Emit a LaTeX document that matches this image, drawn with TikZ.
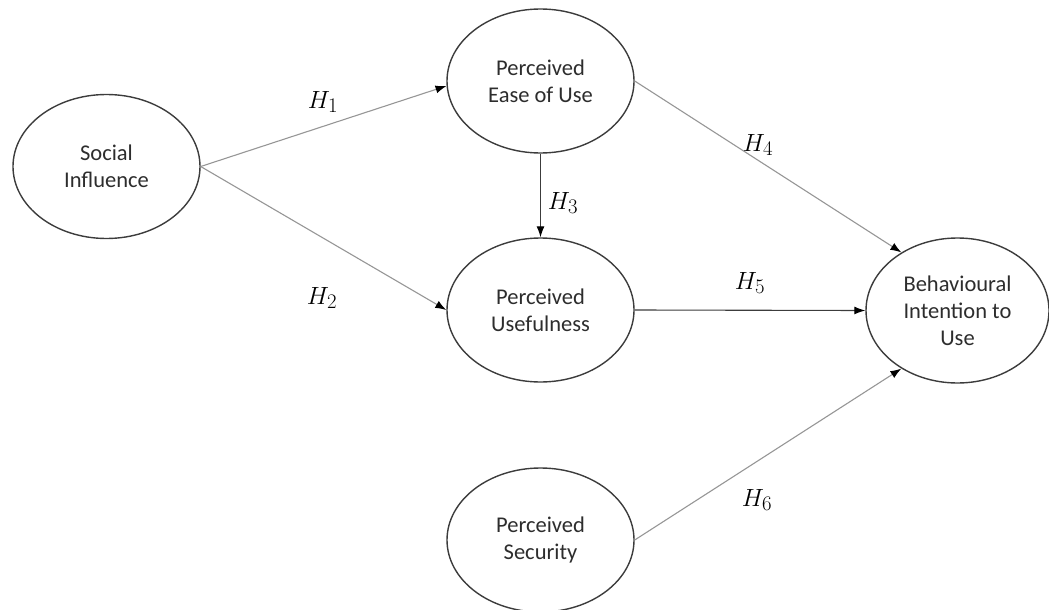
\documentclass[tikz,border=0pt]{standalone}
\usepackage{fontspec}
\setmainfont{Carlito}
\usetikzlibrary{shapes.geometric,arrows.meta}
\definecolor{edgegray}{RGB}{60,60,60}
\definecolor{linegray}{RGB}{150,150,150}
\definecolor{txt}{RGB}{45,45,45}
\tikzset{
  construct/.style={ellipse, draw=edgegray, line width=1.4pt, fill=white,
    minimum width=187pt, minimum height=144pt, inner sep=0pt,
    align=center, text=txt, font=\fontsize{22.5}{27}\selectfont},
  lightarrow/.style={draw=linegray, line width=1.1pt, -{Latex[length=11pt,width=8pt,color=black]}},
  darkarrow/.style={draw=edgegray, line width=1.1pt, -{Latex[length=11pt,width=8pt,color=black]}},
  hyp/.style={font=\fontsize{29}{33}\selectfont, text=black, inner sep=0pt}
}
\begin{document}
\begin{tikzpicture}[x=1pt,y=-1pt]
\useasboundingbox (0,0) rectangle (1049,610);
\node[construct] (SI)   at (106.5,166.5) {Social\\Influence};
\node[construct] (PEOU) at (540.5,81)    {Perceived\\Ease of Use};
\node[construct] (PU)   at (540.5,310)   {Perceived\\Usefulness};
\node[construct, minimum width=183pt, minimum height=145pt] (BI) at (957.5,310.5) {Behavioural\\Intention to\\Use};
\node[construct] (PS)   at (540.5,540)   {Perceived\\Security};

\draw[lightarrow] (SI.east) -- (PEOU.183);
\draw[lightarrow] (SI.east) -- (PU.west);
\draw[darkarrow]  (PEOU.south) -- (PU.north);
\draw[lightarrow] (PEOU.east) -- (BI.134);
\draw[darkarrow]  (PU.east) -- (BI.west);
\draw[lightarrow] (PS.east) -- (BI.226);

\node[hyp] (h1) at (323,102) {$H_1$};
\node[hyp] (h2) at (322,298) {$H_2$};
\node[hyp] (h3) at (563,203) {$H_3$};
\node[hyp] (h4) at (758,145) {$H_4$};
\node[hyp] (h5) at (750,283) {$H_5$};
\node[hyp] (h6) at (757,500) {$H_6$};
\end{tikzpicture}
\end{document}
